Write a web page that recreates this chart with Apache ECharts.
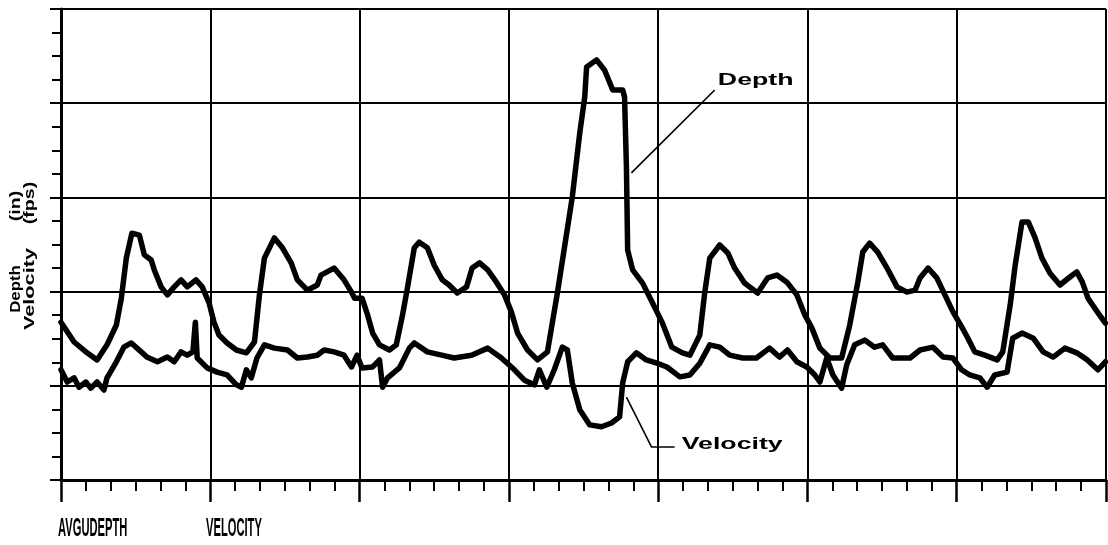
<!DOCTYPE html>
<html><head><meta charset="utf-8">
<script src="https://cdn.jsdelivr.net/npm/echarts@6/dist/echarts.min.js"></script>
<style>html,body{margin:0;padding:0;background:#fff}#c{width:1108px;height:545px}</style>
</head><body><div id="c"></div>
<script>
// time axis in hours (7 days), values in chart units
const depthHours=[0,2.1,4.2,5.8,7.4,8.9,9.7,10.5,11.4,12.6,13.4,14.5,15.0,16.1,17.1,18.2,19.3,20.3,21.7,22.7,23.8,24.6,25.4,26.7,28.2,29.8,31.1,31.9,32.7,34.3,35.6,37.0,38.0,39.6,41.2,41.8,43.9,45.5,46.7,47.2,48.4,49.3,50.1,51.2,52.8,53.9,54.9,55.7,56.8,57.6,58.9,60.0,61.3,62.4,63.7,65.2,66.1,67.3,68.6,70.0,71.3,72.4,73.4,75.0,76.6,78.2,79.8,81.0,82.2,83.4,84.2,84.5,86.1,87.4,88.7,90.3,90.6,90.9,91.1,91.9,93.5,95.1,96.7,98.2,99.9,101.1,102.7,103.5,104.3,105.9,107.2,108.3,109.9,112.0,113.6,115.1,116.7,118.3,119.6,120.7,122.0,123.6,125.5,126.8,128.1,128.9,130.0,131.3,132.8,134.4,136.0,137.3,138.1,139.4,140.8,142.1,143.4,144.8,145.8,146.9,148.5,150.5,151.4,152.6,153.4,154.5,155.5,156.6,157.7,159.0,160.6,162.2,163.3,164.2,165.1,166.6,167.9];
const depthValues=[3.35,2.93,2.70,2.55,2.87,3.29,3.86,4.71,5.24,5.20,
4.78,4.67,4.46,4.10,3.93,4.10,4.25,4.10,4.25,4.10,
3.76,3.35,3.08,2.91,2.76,2.70,2.93,3.93,4.71,5.14,
4.93,4.61,4.25,4.03,4.14,4.35,4.50,4.25,3.99,3.86,
3.86,3.50,3.12,2.87,2.76,2.87,3.50,4.08,4.93,5.05,
4.93,4.56,4.25,4.14,3.97,4.10,4.50,4.61,4.46,4.20,
3.93,3.57,3.12,2.76,2.55,2.72,3.97,4.99,6.01,7.37,
8.13,8.77,8.92,8.70,8.28,8.28,8.13,6.65,4.88,4.46,
4.18,3.76,3.33,2.82,2.70,2.65,3.08,3.99,4.71,4.99,
4.82,4.50,4.18,3.97,4.29,4.35,4.20,3.93,3.50,3.23,
2.80,2.59,2.59,3.29,4.20,4.84,5.03,4.84,4.50,4.10,
3.99,4.03,4.29,4.50,4.29,3.93,3.57,3.25,3.01,2.72,
2.65,2.55,2.72,3.72,4.56,5.48,5.48,5.14,4.71,4.39,
4.14,4.31,4.42,4.20,3.86,3.57,3.33];
const velocityHours=[0,1.0,2.1,2.9,4.0,4.8,5.8,6.9,7.4,8.9,10.1,11.3,12.9,13.8,15.5,17.1,18.2,19.3,20.3,21.2,21.6,21.9,23.5,25.1,26.7,28.2,29.0,29.8,30.6,31.5,32.7,34.3,36.4,38.0,39.6,41.2,42.3,43.9,45.5,46.7,47.6,48.4,50.1,51.2,51.7,52.5,54.4,56.0,56.8,58.9,61.2,63.2,66.0,68.6,70.8,72.9,74.5,76.1,76.9,78.1,79.3,80.6,81.4,82.2,83.4,85.0,86.9,88.5,89.8,90.3,91.1,92.5,94.1,95.8,97.4,99.5,101.1,102.7,104.3,105.9,107.5,109.6,111.8,113.9,115.5,116.8,118.3,119.9,121.2,122.0,123.1,124.1,125.5,126.3,127.6,129.2,130.8,132.1,133.7,135.3,136.5,138.1,140.2,141.8,143.4,144.8,146.1,147.7,148.9,150.1,152.1,153.0,154.5,156.3,157.9,159.5,161.4,163.3,165.0,166.7,167.9];
const velocityValues=[2.34,2.08,2.17,1.97,2.08,1.95,2.08,1.91,2.17,2.51,2.82,2.91,2.72,2.61,2.51,2.61,2.51,2.72,2.65,2.72,3.35,2.59,2.38,2.29,2.23,2.02,1.97,2.34,2.17,2.59,2.87,2.80,2.76,2.59,2.61,2.65,2.76,2.72,2.65,2.40,2.65,2.38,2.40,2.55,1.97,2.17,2.38,2.80,2.91,2.72,2.65,2.59,2.65,2.80,2.59,2.34,2.12,2.02,2.34,1.97,2.34,2.82,2.76,2.06,1.49,1.17,1.13,1.21,1.34,2.06,2.51,2.70,2.55,2.48,2.40,2.19,2.23,2.48,2.87,2.82,2.65,2.59,2.59,2.80,2.61,2.76,2.51,2.40,2.23,2.08,2.59,2.23,1.95,2.44,2.87,2.97,2.82,2.87,2.59,2.59,2.59,2.76,2.82,2.61,2.59,2.34,2.23,2.17,1.97,2.23,2.29,3.01,3.12,3.01,2.72,2.61,2.80,2.70,2.55,2.34,2.51];
// annotation leader anchors (hours, value)
const depthLeader=[[91.7,6.52],[105.1,8.28]];
const velocityLeader=[[90.9,1.76],[94.95,0.70],[98.65,0.70]];
const depthLabelAt=[105.6,8.49];
const velocityLabelAt=[99.8,0.76];
const yNames=['Depth','Velocity'];
const yUnits=['(in)','(fps)'];
const bottomLabels=['AVGUDEPTH','VELOCITY'];

const zip=(a,b)=>a.map((x,i)=>[x,b[i]]);
const chart=echarts.init(document.getElementById('c'),null,{renderer:'canvas'});
const blk='#000';
chart.setOption({
  animation:false,
  backgroundColor:'#fff',
  grid:{left:61,right:2,top:9,bottom:65,containLabel:false},
  xAxis:{type:'value',min:0,max:168,interval:24,
    axisLine:{show:true,onZero:false,lineStyle:{color:blk,width:3}},
    axisTick:{show:true,length:22,lineStyle:{color:blk,width:2.5}},
    minorTick:{show:true,splitNumber:6,length:11,lineStyle:{color:blk,width:2}},
    axisLabel:{show:false},
    splitLine:{show:true,lineStyle:{color:blk,width:2}}},
  yAxis:{type:'value',min:0,max:10,interval:2,
    axisLine:{show:true,onZero:false,lineStyle:{color:blk,width:3}},
    axisTick:{show:true,length:11,lineStyle:{color:blk,width:2}},
    minorTick:{show:true,splitNumber:4,length:9,lineStyle:{color:blk,width:2}},
    axisLabel:{show:false},
    splitLine:{show:true,lineStyle:{color:blk,width:2}}},
  series:[
    {name:'Depth',type:'line',data:zip(depthHours,depthValues),showSymbol:false,symbol:'none',
     lineStyle:{color:blk,width:5.5,join:'round',cap:'round'},z:5},
    {name:'Velocity',type:'line',data:zip(velocityHours,velocityValues),showSymbol:false,symbol:'none',
     lineStyle:{color:blk,width:5.5,join:'round',cap:'round'},z:5},
    {name:'depthLeader',type:'line',data:depthLeader,showSymbol:false,symbol:'none',silent:true,
     lineStyle:{color:blk,width:1.6},z:4},
    {name:'velocityLeader',type:'line',data:velocityLeader,showSymbol:false,symbol:'none',silent:true,
     lineStyle:{color:blk,width:1.6},z:4}
  ]
});
const px=(pt)=>chart.convertToPixel({gridIndex:0},pt);
const dl=px(depthLabelAt), vl=px(velocityLabelAt);
const labelFont='bold 17px "Liberation Sans", Arial, sans-serif';
const yFont='bold 14px "Liberation Sans", Arial, sans-serif';
const botFont='bold 26px "Liberation Sans", Arial, sans-serif';
const yText=(t,x,y,s)=>({type:'text',x:x,y:y,rotation:Math.PI/2,scaleX:s,style:{text:t,font:yFont,fill:blk,align:'center',verticalAlign:'middle'}});
chart.setOption({graphic:[
  {type:'text',x:dl[0],y:dl[1],scaleX:1.57,style:{text:'Depth',font:labelFont,fill:blk,align:'left',verticalAlign:'middle'}},
  {type:'text',x:vl[0],y:vl[1],scaleX:1.57,style:{text:'Velocity',font:labelFont,fill:blk,align:'left',verticalAlign:'middle'}},
  yText(yNames[0],16,289,1.2),
  yText(yUnits[0],16,206,1.4),
  yText(yNames[1],30,289,1.55),
  yText(yUnits[1],30,203,1.4),
  {type:'text',x:58,y:529,scaleX:0.43,style:{text:bottomLabels[0],font:botFont,fill:blk,align:'left',verticalAlign:'middle'}},
  {type:'text',x:206,y:529,scaleX:0.43,style:{text:bottomLabels[1],font:botFont,fill:blk,align:'left',verticalAlign:'middle'}}
]});
</script></body></html>
